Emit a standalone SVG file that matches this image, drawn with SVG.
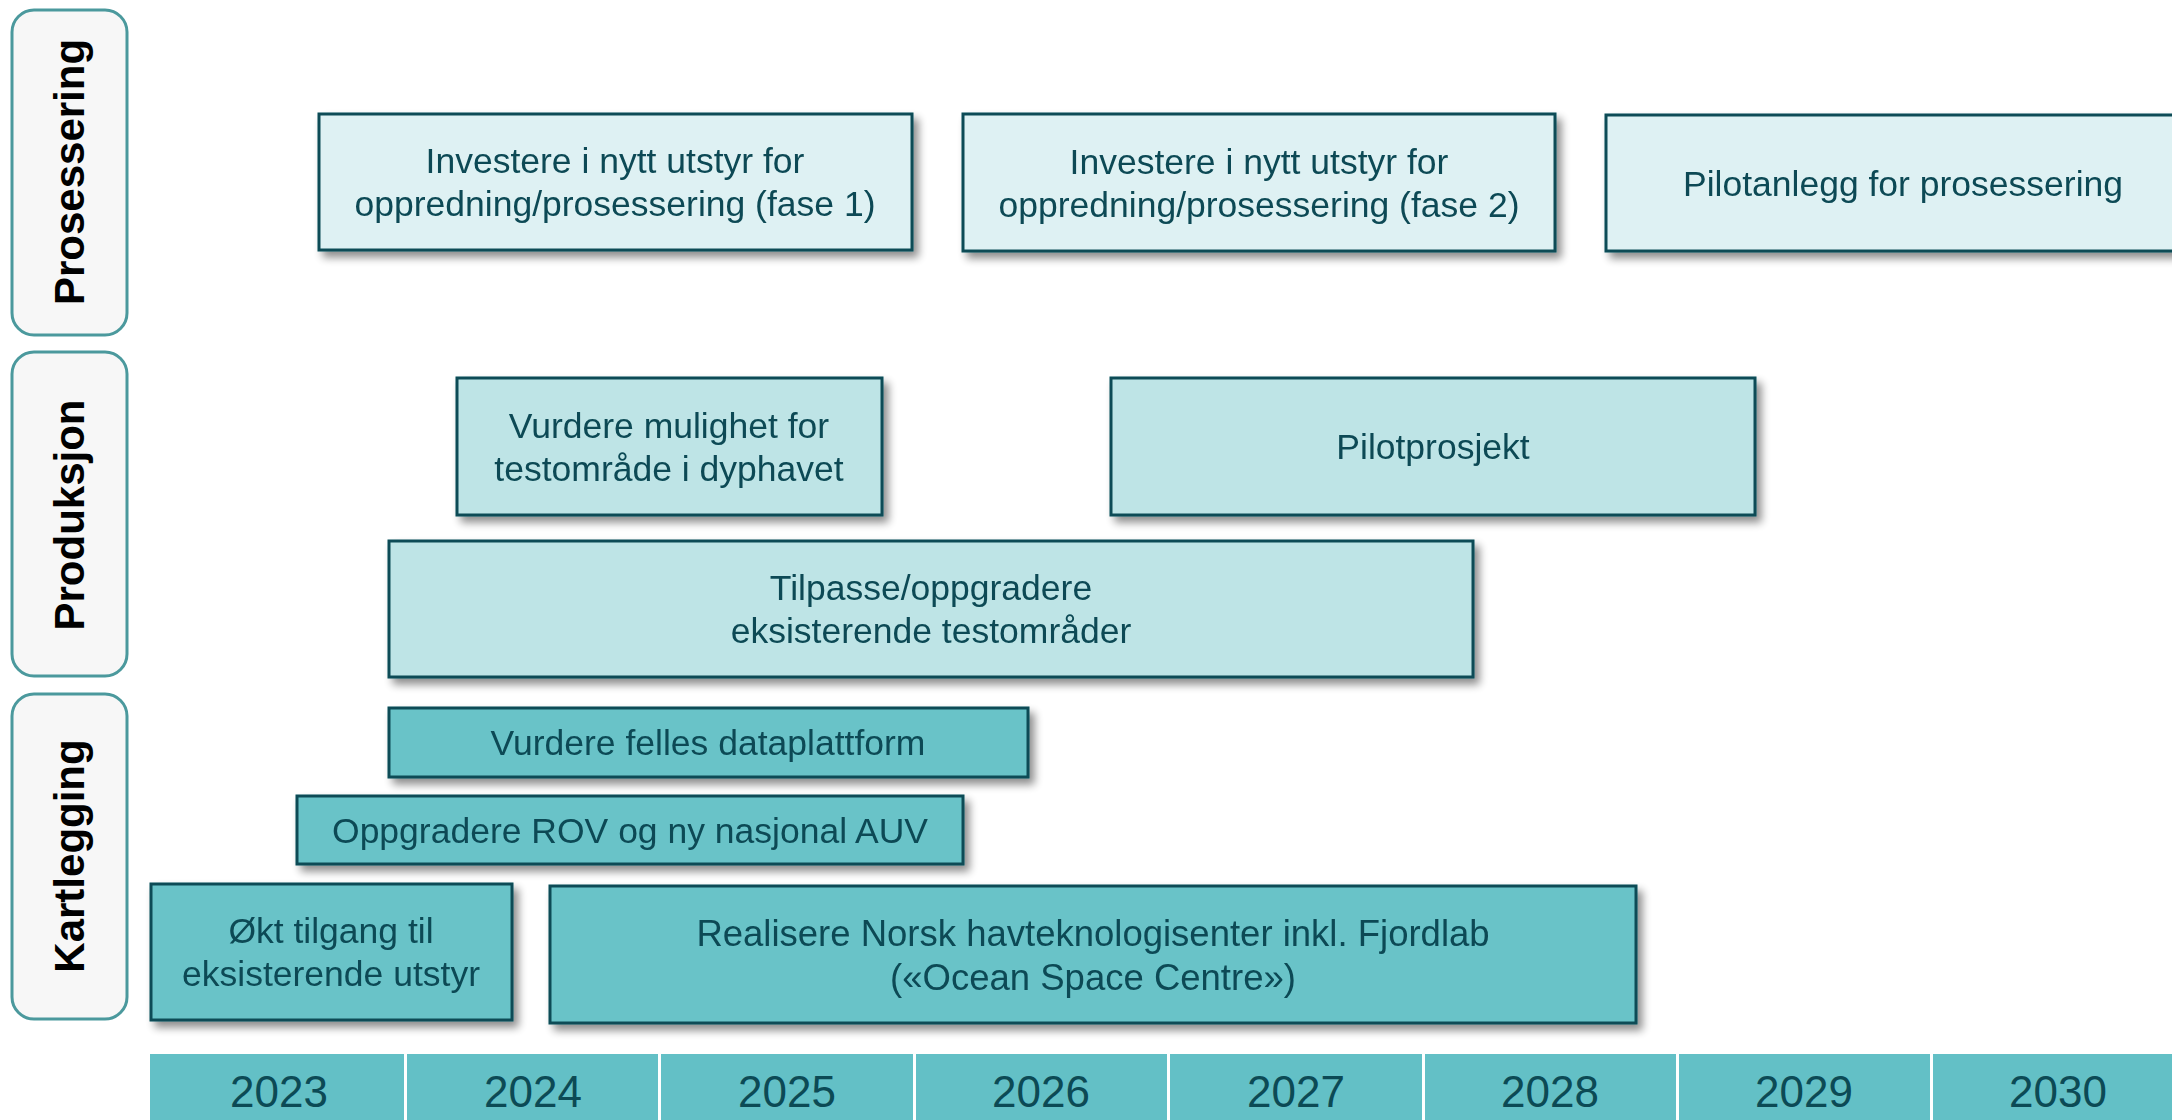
<svg xmlns="http://www.w3.org/2000/svg" width="2172" height="1120" viewBox="0 0 2172 1120">
<style>
.lbl{fill:#f7f7f7;stroke:#4b999d;stroke-width:3}
.lt{font-family:"Liberation Sans",Arial,sans-serif;font-weight:bold;font-size:42px;fill:#000;text-anchor:middle}
.box{stroke:#0d4c57;stroke-width:3}
.k{fill:#69c3c8}
.p{fill:#bee4e6}
.s{fill:#def1f3}
.t{font-family:"Liberation Sans",Arial,sans-serif;font-size:35.5px;fill:#0c4a55;text-anchor:middle}
.tl{font-size:36.5px}
.yc{fill:#63c0c6}
.yt{font-family:"Liberation Sans",Arial,sans-serif;font-size:44px;fill:#0c4a55;text-anchor:middle}
</style>
<defs>
<filter id="sh" x="-10%" y="-20%" width="125%" height="150%">
<feGaussianBlur in="SourceAlpha" stdDeviation="4"/>
<feOffset dx="5" dy="6" result="b"/>
<feComponentTransfer><feFuncA type="linear" slope="0.45"/></feComponentTransfer>
<feMerge><feMergeNode/><feMergeNode in="SourceGraphic"/></feMerge>
</filter>
</defs>
<rect width="2172" height="1120" fill="#fff"/>

<g id="label-prosessering">
<rect class="lbl" x="12" y="10" width="115" height="325" rx="22"/>
<text class="lt" transform="translate(84,172) rotate(-90)">Prosessering</text>
</g>
<g id="label-produksjon">
<rect class="lbl" x="12" y="352" width="115" height="324" rx="22"/>
<text class="lt" transform="translate(84,515) rotate(-90)">Produksjon</text>
</g>
<g id="label-kartlegging">
<rect class="lbl" x="12" y="694" width="115" height="325" rx="22"/>
<text class="lt" transform="translate(84,856) rotate(-90)">Kartlegging</text>
</g>

<g id="node-investere-fase1" filter="url(#sh)">
<rect class="box s" x="319" y="114" width="593" height="136"/>
<text class="t" x="615" y="173">Investere i nytt utstyr for</text>
<text class="t" x="615" y="216">oppredning/prosessering (fase 1)</text>
</g>
<g id="node-investere-fase2" filter="url(#sh)">
<rect class="box s" x="963" y="114" width="592" height="137"/>
<text class="t" x="1259" y="174">Investere i nytt utstyr for</text>
<text class="t" x="1259" y="217">oppredning/prosessering (fase 2)</text>
</g>
<g id="node-pilotanlegg" filter="url(#sh)">
<rect class="box s" x="1606" y="115" width="600" height="136"/>
<text class="t" x="1903" y="196">Pilotanlegg for prosessering</text>
</g>

<g id="node-vurdere-mulighet" filter="url(#sh)">
<rect class="box p" x="457" y="378" width="425" height="137"/>
<text class="t" x="669" y="438">Vurdere mulighet for</text>
<text class="t" x="669" y="481">testområde i dyphavet</text>
</g>
<g id="node-pilotprosjekt" filter="url(#sh)">
<rect class="box p" x="1111" y="378" width="644" height="137"/>
<text class="t" x="1433" y="459">Pilotprosjekt</text>
</g>
<g id="node-tilpasse" filter="url(#sh)">
<rect class="box p" x="389" y="541" width="1084" height="136"/>
<text class="t" x="931" y="600">Tilpasse/oppgradere</text>
<text class="t" x="931" y="643">eksisterende testområder</text>
</g>

<g id="node-vurdere-felles" filter="url(#sh)">
<rect class="box k" x="389" y="708" width="639" height="69"/>
<text class="t" x="708" y="755">Vurdere felles dataplattform</text>
</g>
<g id="node-oppgradere-rov" filter="url(#sh)">
<rect class="box k" x="297" y="796" width="666" height="68"/>
<text class="t" x="630" y="843">Oppgradere ROV og ny nasjonal AUV</text>
</g>
<g id="node-okt-tilgang" filter="url(#sh)">
<rect class="box k" x="151" y="884" width="361" height="136"/>
<text class="t" x="331" y="943">Økt tilgang til</text>
<text class="t" x="331" y="986">eksisterende utstyr</text>
</g>
<g id="node-realisere" filter="url(#sh)">
<rect class="box k" x="550" y="886" width="1086" height="137"/>
<text class="t tl" x="1093" y="946">Realisere Norsk havteknologisenter inkl. Fjordlab</text>
<text class="t tl" x="1093" y="990">(«Ocean Space Centre»)</text>
</g>

<g id="timeline">
<rect class="yc" x="150" y="1054" width="254" height="66"/>
<rect class="yc" x="407" y="1054" width="251" height="66"/>
<rect class="yc" x="661" y="1054" width="252" height="66"/>
<rect class="yc" x="916" y="1054" width="251" height="66"/>
<rect class="yc" x="1170" y="1054" width="252" height="66"/>
<rect class="yc" x="1425" y="1054" width="251" height="66"/>
<rect class="yc" x="1679" y="1054" width="251" height="66"/>
<rect class="yc" x="1933" y="1054" width="239" height="66"/>
<text class="yt" x="279" y="1107">2023</text>
<text class="yt" x="533" y="1107">2024</text>
<text class="yt" x="787" y="1107">2025</text>
<text class="yt" x="1041" y="1107">2026</text>
<text class="yt" x="1296" y="1107">2027</text>
<text class="yt" x="1550" y="1107">2028</text>
<text class="yt" x="1804" y="1107">2029</text>
<text class="yt" x="2058" y="1107">2030</text>
</g>
<g id="connectors"/>
</svg>
